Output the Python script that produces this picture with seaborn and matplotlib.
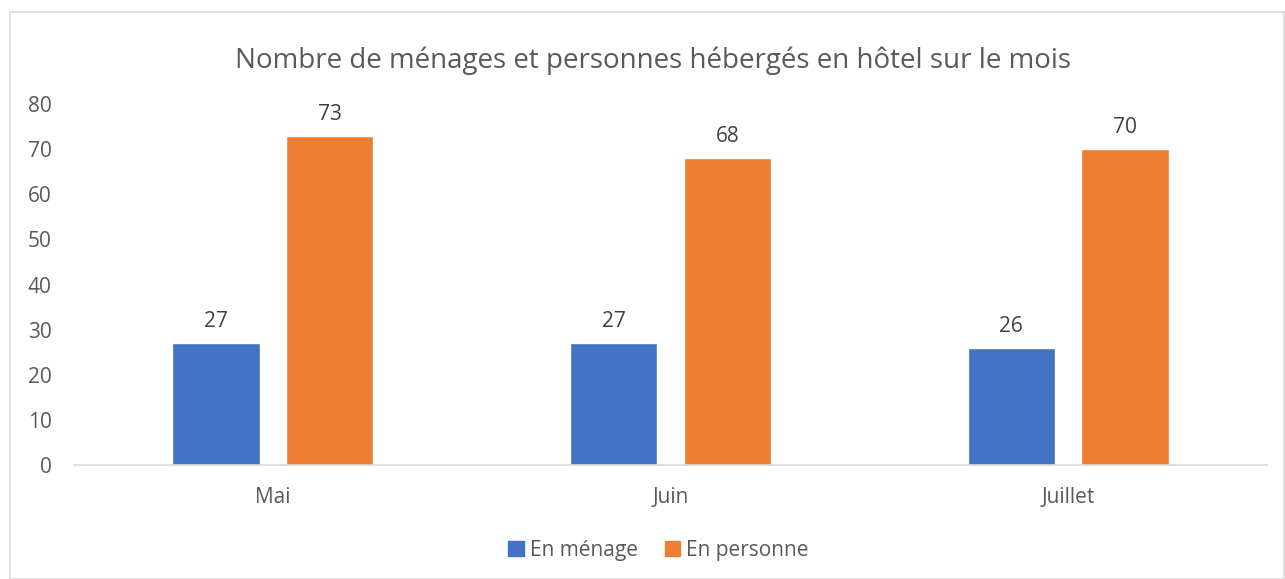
import matplotlib
matplotlib.use("Agg")
import matplotlib.pyplot as plt
import matplotlib.patches as mpatches
import pandas as pd
import seaborn as sns

# ====== Données ======
mois = ["Mai", "Juin", "Juillet"]
en_menage = [27, 27, 26]
en_personne = [73, 68, 70]
series = ["En ménage", "En personne"]
couleurs = ["#4472C4", "#ED7D31"]

df = pd.DataFrame({
    "mois": mois * 2,
    "valeur": en_menage + en_personne,
    "serie": [series[0]] * len(mois) + [series[1]] * len(mois),
})

sns.set_style("white")
plt.rcParams["font.family"] = ["Open Sans", "DejaVu Sans"]
gris = "#595959"

fig = plt.figure(figsize=(12.85, 5.79), dpi=100)
ax = fig.add_axes([74 / 1285, 0.197, 1193 / 1285, 0.623])

sns.barplot(data=df, x="mois", y="valeur", hue="serie", palette=couleurs,
            width=0.572, gap=0.23, ax=ax, saturation=1)

for cont in ax.containers:
    ax.bar_label(cont, labels=[f"{v:.0f}" for v in cont.datavalues],
                 padding=8, fontsize=15, color="#404040")

ax.set_ylim(0, 80)
ax.set_yticks(range(0, 81, 10))
ax.set_xlim(-0.5, 2.5)
ax.set_xlabel("")
ax.set_ylabel("")
ax.tick_params(axis="both", length=0, labelsize=15, colors=gris)
ax.tick_params(axis="y", pad=16)
ax.tick_params(axis="x", pad=16)
for s in ["top", "right", "left"]:
    ax.spines[s].set_visible(False)
ax.spines["bottom"].set_color("#d9d9d9")
ax.spines["bottom"].set_linewidth(1.2)

ax.set_title("Nombre de ménages et personnes hébergés en hôtel sur le mois",
             fontsize=20, color=gris, pad=26, x=0.485)

handles = [mpatches.Patch(color=c, label=s) for c, s in zip(couleurs, series)]
ax.get_legend().remove()
fig.legend(handles=handles, loc="center", bbox_to_anchor=(0.5125, 0.05), ncol=2,
           frameon=False, fontsize=15, handlelength=0.75, handleheight=0.75,
           handletextpad=0.3, columnspacing=1.27, labelcolor=gris)

# cadre du graphique
fig.patches.append(mpatches.Rectangle((10 / 1285, 0.0), 1 - 11 / 1285, 1 - 12 / 579,
                                      transform=fig.transFigure, fill=False,
                                      edgecolor="#d9d9d9", linewidth=1.2))

fig.savefig("out.png", dpi=100)
